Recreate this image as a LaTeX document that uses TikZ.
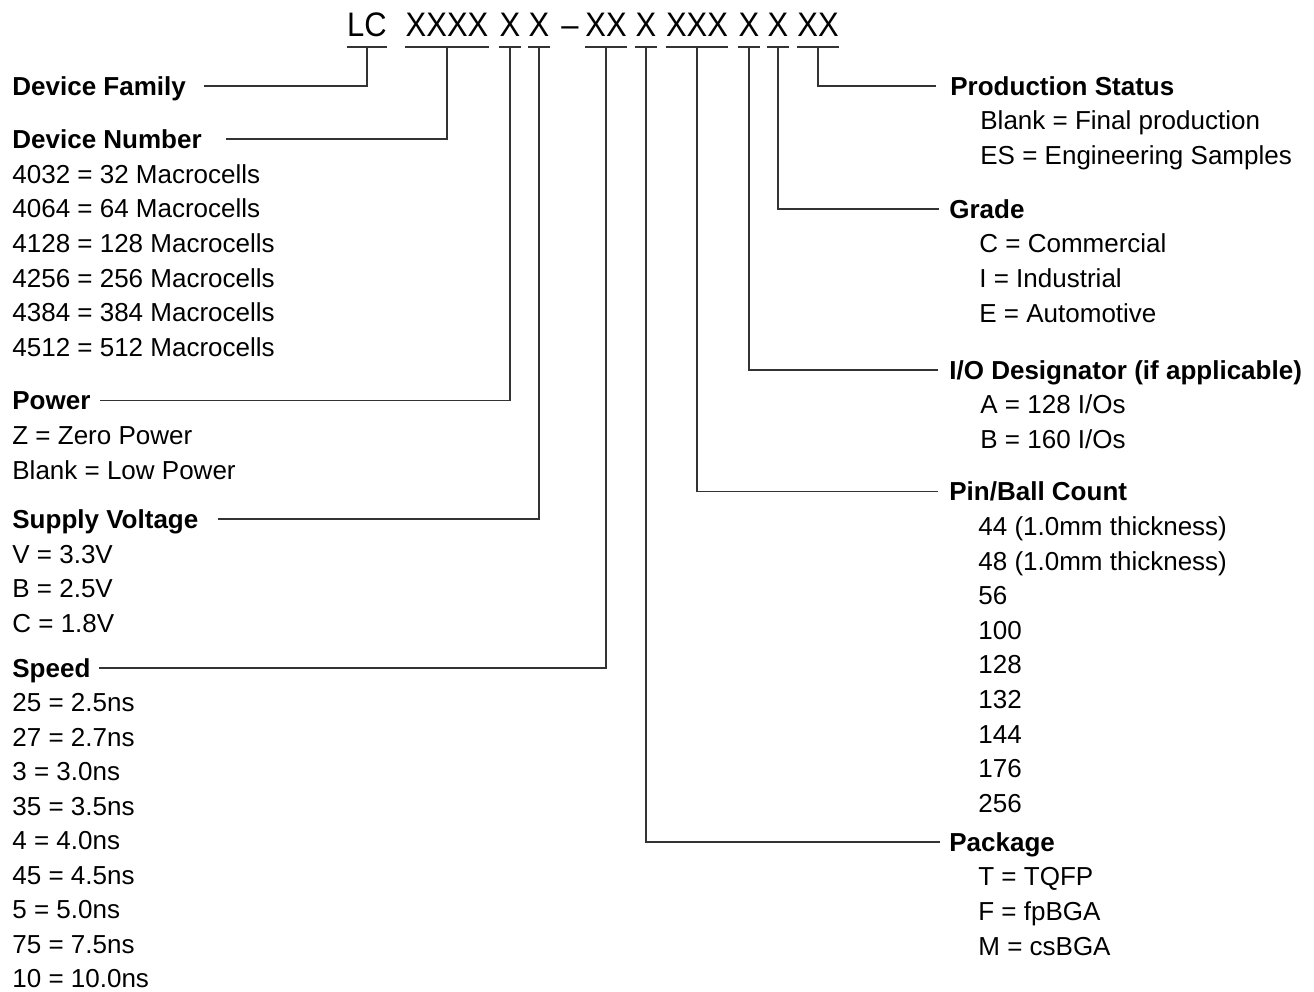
\documentclass[tikz,border=0pt]{standalone}
\usepackage{fontspec}
\setmainfont{Liberation Sans}
\newfontfamily\codefont[FakeStretch=0.91]{Liberation Sans}
\begin{document}
\begin{tikzpicture}[x=0.5pt,y=-0.5pt,
    hd/.style={anchor=west,inner sep=0pt,text height=9.3pt,text depth=0pt,
      font=\fontsize{13}{15}\selectfont\bfseries},
    it/.style={hd,font=\fontsize{13}{15}\selectfont},
    code/.style={anchor=base,inner sep=0pt,font=\codefont\fontsize{17}{20}\selectfont},
    ln/.style={line width=0.75pt,black!80}]
  \useasboundingbox (0,0) rectangle (1314,992);
  % part number
  \node[code] (cfam) at (367,36) {LC};
  \node[code] (cnum) at (447,36) {XXXX};
  \node[code] (cpwr) at (510,36) {X};
  \node[code] (cvcc) at (539,36) {X};
  \node[code] (cdash) at (570,36) {–};
  \node[code] (cspd) at (606,36) {XX};
  \node[code] (cpkg) at (646,36) {X};
  \node[code] (cpin) at (697,36) {XXX};
  \node[code] (cio) at (749,36) {X};
  \node[code] (cgrd) at (778,36) {X};
  \node[code] (cst) at (818,36) {XX};
  \foreach \c in {cfam,cnum,cpwr,cvcc,cspd,cpkg,cpin,cio,cgrd,cst}
    \draw[ln] ([yshift=-5.5pt]\c.base west) -- ([yshift=-5.5pt]\c.base east);
  % left column
  \node[hd] (fam) at (12,86) {Device Family};
  \node[hd] (num) at (12,139) {Device Number};
  \foreach \t [count=\i] in {4032 = 32 Macrocells,4064 = 64 Macrocells,
      4128 = 128 Macrocells,4256 = 256 Macrocells,4384 = 384 Macrocells,
      4512 = 512 Macrocells}
    \node[it] (num\i) at (12,{139+34.7*\i}) {\t};
  \node[hd] (pwr) at (12,400.5) {Power};
  \foreach \t [count=\i] in {Z = Zero Power,Blank = Low Power}
    \node[it] (pwr\i) at (12,{400.5+34.7*\i}) {\t};
  \node[hd] (vcc) at (12,519) {Supply Voltage};
  \foreach \t [count=\i] in {V = 3.3V,B = 2.5V,C = 1.8V}
    \node[it] (vcc\i) at (12,{519+34.7*\i}) {\t};
  \node[hd] (spd) at (12,668) {Speed};
  \foreach \t [count=\i] in {25 = 2.5ns,27 = 2.7ns,3 = 3.0ns,35 = 3.5ns,
      4 = 4.0ns,45 = 4.5ns,5 = 5.0ns,75 = 7.5ns,10 = 10.0ns}
    \node[it] (spd\i) at (12,{668+34.5*\i}) {\t};
  % right column
  \node[hd] (st) at (950,86) {Production Status};
  \foreach \t [count=\i] in {Blank = Final production,ES = Engineering Samples}
    \node[it] (st\i) at (980,{86+34.6*\i}) {\t};
  \node[hd] (grd) at (949,209) {Grade};
  \foreach \t [count=\i] in {C = Commercial,I = Industrial,E = Automotive}
    \node[it] (grd\i) at (979,{209+34.6*\i}) {\t};
  \node[hd] (io) at (949,370) {I/O Designator (if applicable)};
  \foreach \t [count=\i] in {A = 128 I/Os,B = 160 I/Os}
    \node[it] (io\i) at (980,{370+34.6*\i}) {\t};
  \node[hd] (pin) at (949,491.5) {Pin/Ball Count};
  \foreach \t [count=\i] in {44 (1.0mm thickness),48 (1.0mm thickness),56,100,
      128,132,144,176,256}
    \node[it] (pin\i) at (978,{491.5+34.6*\i}) {\t};
  \node[hd] (pkg) at (949,842) {Package};
  \foreach \t [count=\i] in {T = TQFP,F = fpBGA,M = csBGA}
    \node[it] (pkg\i) at (978,{842+34.6*\i}) {\t};
  % leaders
  \draw[ln] ([yshift=-5.5pt]cfam.base) |- ([xshift=9pt]fam.east);
  \draw[ln] ([yshift=-5.5pt]cnum.base) |- ([xshift=12pt]num.east);
  \draw[ln] ([yshift=-5.5pt]cpwr.base) |- ([xshift=4.5pt]pwr.east);
  \draw[ln] ([yshift=-5.5pt]cvcc.base) |- ([xshift=9.5pt]vcc.east);
  \draw[ln] ([yshift=-5.5pt]cspd.base) |- ([xshift=4pt]spd.east);
  \draw[ln] ([yshift=-5.5pt]cst.base) |- ([xshift=-7pt]st.west);
  \draw[ln] ([yshift=-5.5pt]cgrd.base) |- ([xshift=-5pt]grd.west);
  \draw[ln] ([yshift=-5.5pt]cio.base) |- ([xshift=-5.5pt]io.west);
  \draw[ln] ([yshift=-5.5pt]cpin.base) |- ([xshift=-5.5pt]pin.west);
  \draw[ln] ([yshift=-5.5pt]cpkg.base) |- ([xshift=-4.5pt]pkg.west);
\end{tikzpicture}
\end{document}
